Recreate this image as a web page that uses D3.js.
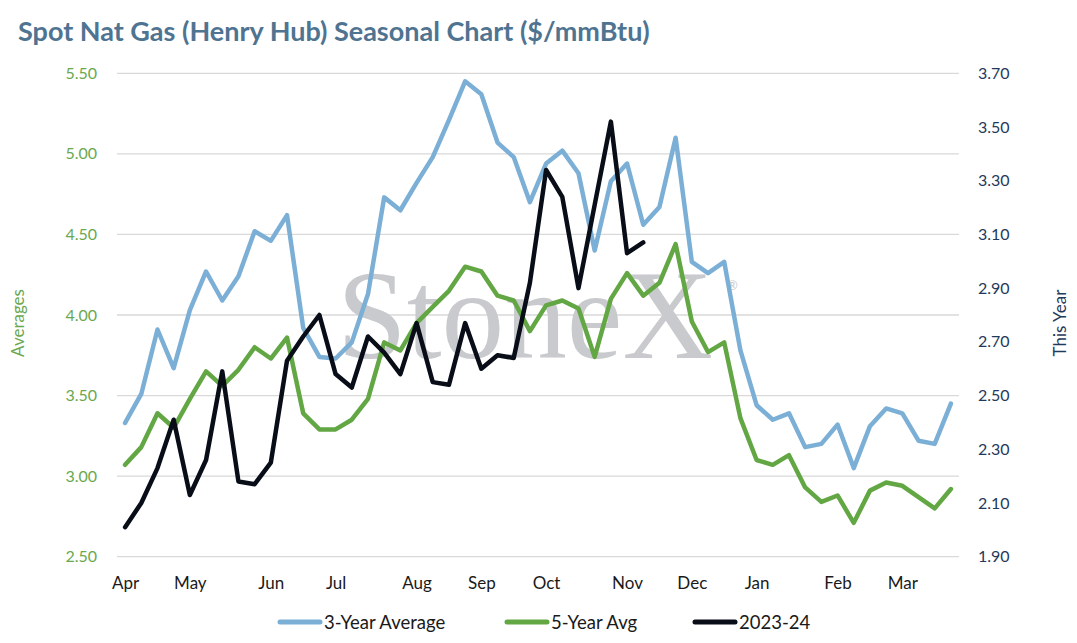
<!DOCTYPE html>
<meta charset="utf-8">
<style type="text/css">
    body { margin: 0; background: #fff; }
    text { font-family: Lato, "Open Sans", sans-serif; }
    .grid line { stroke: #d9d9d9; stroke-width: 1.3; }
    .line { fill: none; stroke-width: 4.5; stroke-linejoin: round; stroke-linecap: round; }
    .axis .domain, .axis line { display: none; }
    .watermark { font-family: "Liberation Serif", "DejaVu Serif", serif; }
</style>
<body>
</body>
<script type="text/javascript" src="https://d3js.org/d3.v7.min.js"></script>
<script>
    // weekly points, Apr -> Mar
    var monthWeeks = [0, 4, 9, 13, 18, 22, 26, 31, 35, 39, 44, 48];
    var monthLabels = ["Apr", "May", "Jun", "Jul", "Aug", "Sep", "Oct", "Nov", "Dec", "Jan", "Feb", "Mar"];

    var threeYear = [3.33, 3.51, 3.91, 3.67, 4.03, 4.27, 4.09, 4.24, 4.52, 4.46, 4.62, 3.92, 3.74, 3.73, 3.83, 4.13,
        4.73, 4.65, 4.82, 4.98, 5.21, 5.45, 5.37, 5.07, 4.98, 4.70, 4.94, 5.02, 4.88, 4.40, 4.83, 4.94,
        4.56, 4.67, 5.10, 4.33, 4.26, 4.33, 3.78, 3.44, 3.35, 3.39, 3.18, 3.20, 3.32, 3.05, 3.31, 3.42,
        3.39, 3.22, 3.20, 3.45];
    var fiveYear = [3.07, 3.18, 3.39, 3.30, 3.48, 3.65, 3.56, 3.66, 3.80, 3.73, 3.86, 3.39, 3.29, 3.29, 3.35, 3.48,
        3.83, 3.78, 3.95, 4.05, 4.15, 4.30, 4.27, 4.12, 4.09, 3.90, 4.06, 4.09, 4.04, 3.74, 4.10, 4.26,
        4.12, 4.20, 4.44, 3.96, 3.77, 3.83, 3.36, 3.10, 3.07, 3.13, 2.93, 2.84, 2.88, 2.71, 2.91, 2.96,
        2.94, 2.87, 2.80, 2.92];
    var thisYear = [2.01, 2.10, 2.23, 2.41, 2.13, 2.26, 2.59, 2.18, 2.17, 2.25, 2.63, 2.72, 2.80, 2.58, 2.53, 2.72,
        2.66, 2.58, 2.77, 2.55, 2.54, 2.77, 2.60, 2.65, 2.64, 2.92, 3.34, 3.24, 2.90, 3.21, 3.52, 3.03, 3.07];

    var leftTicks = [2.5, 3.0, 3.5, 4.0, 4.5, 5.0, 5.5];
    var rightTicks = [1.9, 2.1, 2.3, 2.5, 2.7, 2.9, 3.1, 3.3, 3.5, 3.7];

    var width = 1077, height = 643;
    var plot = { left: 117, right: 959, top: 73.3, bottom: 556.7 };

    var svg = d3.select("body").append("svg")
        .attr("width", width)
        .attr("height", height);

    // title
    svg.append("text")
        .attr("x", 18)
        .attr("y", 41)
        .attr("font-size", "27px")
        .attr("font-weight", "bold")
        .attr("fill", "#4f7491")
        .text("Spot Nat Gas (Henry Hub) Seasonal Chart ($/mmBtu)");

    var x = d3.scalePoint()
        .domain(d3.range(threeYear.length))
        .range([plot.left, plot.right])
        .padding(0.5);

    var yLeft = d3.scaleLinear().domain([2.5, 5.5]).range([plot.bottom, plot.top]);
    var yRight = d3.scaleLinear().domain([1.9, 3.7]).range([plot.bottom, plot.top]);

    // gridlines
    svg.append("g").attr("class", "grid")
        .selectAll("line").data(leftTicks).enter().append("line")
        .attr("x1", plot.left).attr("x2", plot.right)
        .attr("y1", d => yLeft(d)).attr("y2", d => yLeft(d));

    // watermark
    var wm = svg.append("g").attr("fill", "#c9cacd");
    wm.append("text")
        .attr("class", "watermark")
        .attr("x", 337).attr("y", 358)
        .attr("font-size", "126px")
        .attr("textLength", 376)
        .attr("lengthAdjust", "spacingAndGlyphs")
        .text("StoneX");
    wm.append("text")
        .attr("x", 727).attr("y", 290)
        .attr("font-size", "13px")
        .text("®");

    // axes
    svg.append("g").attr("class", "axis")
        .attr("transform", "translate(" + (plot.left - 8) + ",0)")
        .style("font", "16px Lato")
        .call(d3.axisLeft(yLeft).tickValues(leftTicks).tickFormat(d3.format(".2f")).tickSize(0).tickPadding(12))
        .selectAll("text").attr("fill", "#6aa84f");

    svg.append("g").attr("class", "axis")
        .attr("transform", "translate(" + (plot.right + 8) + ",0)")
        .style("font", "16px Lato")
        .call(d3.axisRight(yRight).tickValues(rightTicks).tickFormat(d3.format(".2f")).tickSize(0).tickPadding(11))
        .selectAll("text").attr("fill", "#1f3a5a");

    svg.append("g").attr("class", "axis")
        .attr("transform", "translate(0," + (plot.bottom + 10) + ")")
        .style("font", "17px Lato")
        .call(d3.axisBottom(x).tickValues(monthWeeks).tickFormat((d, i) => monthLabels[i]).tickSize(0).tickPadding(10))
        .selectAll("text").attr("fill", "#1a1a1a");

    // axis titles
    svg.append("text")
        .attr("transform", "translate(24,323) rotate(-90)")
        .attr("text-anchor", "middle")
        .attr("font-size", "17px")
        .attr("fill", "#6aa84f")
        .text("Averages");

    svg.append("text")
        .attr("transform", "translate(1066,323) rotate(-90)")
        .attr("text-anchor", "middle")
        .attr("font-size", "17px")
        .attr("fill", "#1f3a5a")
        .text("This Year");

    // lines
    var lineLeft = d3.line().x((d, i) => x(i)).y(d => yLeft(d));
    var lineRight = d3.line().x((d, i) => x(i)).y(d => yRight(d));

    svg.append("path").datum(threeYear)
        .attr("class", "line").attr("stroke", "#7bafd6").attr("d", lineLeft);
    svg.append("path").datum(fiveYear)
        .attr("class", "line").attr("stroke", "#62a744").attr("d", lineLeft);
    svg.append("path").datum(thisYear)
        .attr("class", "line").attr("stroke", "#080d18").attr("stroke-width", 5).attr("d", lineRight);

    // legend
    var legend = [
        { name: "3-Year Average", color: "#7bafd6", x: 278 },
        { name: "5-Year Avg", color: "#62a744", x: 505 },
        { name: "2023-24", color: "#080d18", x: 693 }
    ];
    var lg = svg.append("g").selectAll("g").data(legend).enter().append("g")
        .attr("transform", d => "translate(" + d.x + ",622)");
    lg.append("line")
        .attr("x1", 2).attr("x2", 42)
        .attr("stroke", d => d.color).attr("stroke-width", 5).attr("stroke-linecap", "round");
    lg.append("text")
        .attr("x", 46).attr("y", 6.5)
        .attr("font-size", "18.5px")
        .attr("fill", "#1a1a1a")
        .text(d => d.name);
</script>
